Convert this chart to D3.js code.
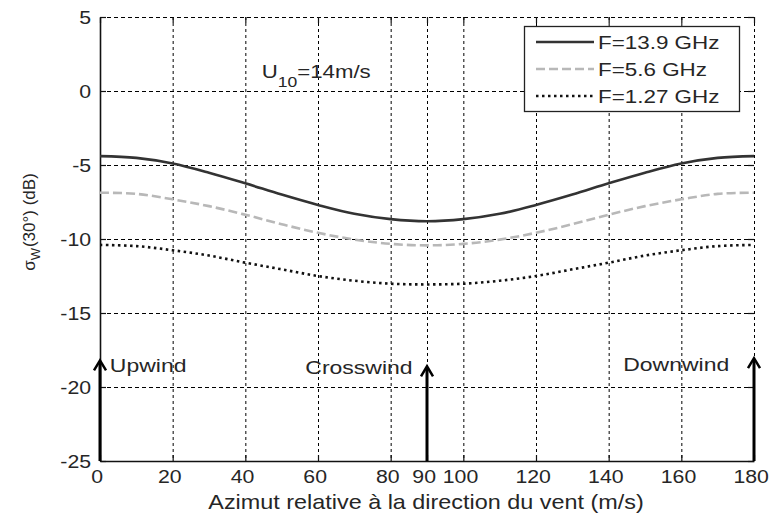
<!DOCTYPE html>
<html><head><meta charset="utf-8">
<script src="https://cdn.jsdelivr.net/npm/d3@7"></script>
<style>
html,body{margin:0;padding:0;background:#fff;}
svg text{font-family:"Liberation Sans",Arial,Helvetica,sans-serif;fill:#262626;}
</style></head><body>
<svg id="c" width="776" height="516"></svg>
<script>
// ---- data ----
const angles = [0,10,20,30,40,50,60,70,80,90,100,110,120,130,140,150,160,170,180];
const f139 = [-4.4,-4.52,-4.9,-5.52,-6.24,-7.0,-7.7,-8.3,-8.66,-8.8,-8.66,-8.3,-7.7,-7.0,-6.24,-5.52,-4.9,-4.52,-4.4];
const f56  = [-6.87,-6.95,-7.32,-7.78,-8.36,-9.0,-9.58,-10.04,-10.33,-10.43,-10.33,-10.04,-9.58,-9.0,-8.36,-7.78,-7.32,-6.95,-6.87];
const f127 = [-10.4,-10.48,-10.76,-11.12,-11.6,-12.05,-12.5,-12.82,-13.02,-13.07,-13.02,-12.82,-12.5,-12.05,-11.6,-11.12,-10.76,-10.48,-10.4];
const seriesNames = ["F=13.9 GHz","F=5.6 GHz","F=1.27 GHz"];
const xTicks = [0,20,40,60,80,90,100,120,140,160,180];
const yTicks = [5,0,-5,-10,-15,-20,-25];
const arrowX = [0,90,180];
const arrowTip = [-18.2,-18.6,-18.05];
const annLabels = ["Upwind","Crosswind","Downwind"];
const annX = [2.7,56.5,144];
const annY = [-19.0,-19.1,-18.9];

// ---- layout ----
const L=100,R=754,T=17,B=461, SX=1.12;
const svg=d3.select("#c");
const x=d3.scaleLinear().domain([0,180]).range([L,R]);
const y=d3.scaleLinear().domain([-25,5]).range([B,T]);

function stext(px,py,anchor,size,sx){
  const g=svg.append("g").attr("transform",`translate(${px},${py}) scale(${sx||SX},1)`);
  return g.append("text").attr("text-anchor",anchor).attr("font-size",size);
}

// grid
const grid=svg.append("g").attr("stroke","#000").attr("stroke-width",1);
grid.selectAll("line.v").data(xTicks).join("line")
  .attr("x1",d=>x(d)+0.5).attr("x2",d=>x(d)+0.5).attr("y1",T).attr("y2",B)
  .attr("stroke-dasharray","3,3");
grid.selectAll("line.h").data(yTicks).join("line")
  .attr("y1",d=>y(d)+0.5).attr("y2",d=>y(d)+0.5).attr("x1",L).attr("x2",R)
  .attr("stroke-dasharray","4,3");

// axes
const fs=19;
const ax=svg.append("g").attr("transform",`translate(0,${B})`)
  .call(d3.axisBottom(x).tickValues(xTicks).tickSizeInner(-6).tickSizeOuter(0).tickPadding(9));
const ay=svg.append("g").attr("transform",`translate(${L},0)`)
  .call(d3.axisLeft(y).tickValues(yTicks).tickSizeInner(-6).tickSizeOuter(0).tickPadding(8).tickFormat(d=>String(d)));
const at=svg.append("g").attr("transform",`translate(0,${T})`)
  .call(d3.axisTop(x).tickValues(xTicks).tickSizeInner(-6).tickSizeOuter(0).tickFormat(""));
const ar=svg.append("g").attr("transform",`translate(${R},0)`)
  .call(d3.axisRight(y).tickValues(yTicks).tickSizeInner(-6).tickSizeOuter(0).tickFormat(""));
at.select(".domain").remove(); ar.select(".domain").remove();
[ax,ay].forEach(a=>{a.select(".domain").attr("stroke","#111").attr("stroke-width",1.6);});
[ax,ay,at,ar].forEach(a=>{
  a.attr("font-family",null).attr("font-size",null);
  a.selectAll(".tick line").attr("stroke","#111").attr("stroke-width",1.2);
  a.selectAll(".tick text").attr("font-size",fs).attr("fill","#262626").attr("transform",`scale(${SX},1)`);
});
ax.selectAll(".tick text").attr("x",-3);

// series
const line=d3.line().x((d,i)=>x(angles[i])).y(d=>y(d)).curve(d3.curveCatmullRom);
const styles=[
  {data:f139,stroke:"#333",dash:null,w:2.6},
  {data:f56,stroke:"#b8b8b8",dash:"9,4",w:2.6},
  {data:f127,stroke:"#111",dash:"2.5,3.5",w:2.6}
];
styles.forEach(s=>{
  svg.append("path").datum(s.data).attr("d",line).attr("fill","none")
    .attr("stroke",s.stroke).attr("stroke-width",s.w).attr("stroke-dasharray",s.dash);
});

// arrows
arrowX.forEach((a,i)=>{
  const ax0=x(a), yt=y(arrowTip[i]);
  svg.append("line").attr("x1",ax0).attr("x2",ax0).attr("y1",B).attr("y2",yt+1)
    .attr("stroke","#000").attr("stroke-width",3);
  svg.append("path").attr("d",`M${ax0-6},${yt+10}L${ax0},${yt}L${ax0+6},${yt+10}`)
    .attr("fill","none").attr("stroke","#000").attr("stroke-width",2.5);
});
annLabels.forEach((t,i)=>{
  stext(x(annX[i]),y(annY[i]),"start",19,1.21).text(t);
});

// U10 label
const u=stext(x(44.5),y(0.85),"start",19,1.17);
u.append("tspan").text("U");
u.append("tspan").attr("font-size",15).attr("dy",9).text("10");
u.append("tspan").attr("dy",-9).text("=14m/s");

// legend
const lg=svg.append("g");
lg.append("rect").attr("x",524.5).attr("y",26.5).attr("width",215).attr("height",85)
  .attr("fill","#fff").attr("stroke","#222").attr("stroke-width",1.3);
seriesNames.forEach((n,i)=>{
  const yy=42+i*27;
  const s=styles[i];
  lg.append("line").attr("x1",536).attr("x2",594).attr("y1",yy).attr("y2",yy)
    .attr("stroke",s.stroke).attr("stroke-width",s.w).attr("stroke-dasharray",s.dash);
  svg.append("g").attr("transform",`translate(598,${yy+7}) scale(1.18,1)`)
    .append("text").attr("font-size",19).text(n);
});

// axis titles
stext((L+R)/2-1,509,"middle",20,1.17).text("Azimut relative à la direction du vent (m/s)");
const yl=svg.append("text").attr("transform",`translate(35,222) rotate(-90)`)
  .attr("text-anchor","middle").attr("font-size",17);
yl.append("tspan").text("σ");
yl.append("tspan").attr("font-size",13).attr("dy",5).text("W");
yl.append("tspan").attr("dy",-5).attr("dx",1).text("(30°) (dB)");
</script>
</body></html>
